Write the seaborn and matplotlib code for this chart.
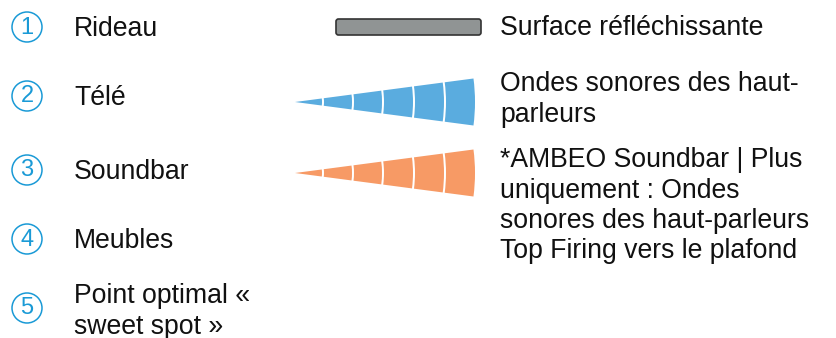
import numpy as np
import seaborn as sns
import matplotlib.pyplot as plt
from matplotlib.patches import Circle, Wedge, FancyBboxPatch

# legend content
numbers = ["1", "2", "3", "4", "5"]
left_labels = ["Rideau", "Télé", "Soundbar", "Meubles", "Point optimal «\nsweet spot »"]
left_rows = [27, 96, 170, 239, 308]

right_labels = ["Surface réfléchissante",
                "Ondes sonores des haut-\nparleurs",
                "*AMBEO Soundbar | Plus\nuniquement : Ondes\nsonores des haut-parleurs\nTop Firing vers le plafond"]
right_tops = [35, 91, 167]

# sound wave segments (inner, outer radius in px from the tip)
seg_inner = [0, 29, 59, 89, 120, 151]
seg_outer = [27, 57, 87, 118, 149, 180]
wave_rows = [102, 173]

sns.set_theme(style="white")
plt.rcParams['font.family'] = ['Liberation Sans', 'DejaVu Sans']
pal = sns.color_palette(["#1a9ad6", "#5aacdf", "#f79a65", "#909494"])
ring_c, blue_c, orange_c, gray_c = pal

fig = plt.figure(figsize=(8.36, 3.38), dpi=100)
ax = fig.add_axes([0, 0, 1, 1])
ax.set_xlim(0, 836)
ax.set_ylim(338, 0)
ax.axis("off")

fs = 19.2
lh = 30.5

for num, lab, y in zip(numbers, left_labels, left_rows):
    ax.add_patch(Circle((27, y), 15, fill=False, edgecolor=ring_c, lw=1.1))
    ax.text(27, y + 0.5, num, color=ring_c, fontsize=17, ha="center", va="center")
    lines = lab.split("\n")
    if len(lines) == 1:
        ax.text(74, y + 9, lines[0], fontsize=fs, color="#111111", va="baseline")
    else:
        for i, ln in enumerate(lines):
            ax.text(74, y - 5 + i * lh, ln, fontsize=fs, color="#111111", va="baseline")

for lab, yb in zip(right_labels, right_tops):
    for i, ln in enumerate(lab.split("\n")):
        ax.text(500, yb + i * lh, ln, fontsize=fs, color="#111111", va="baseline")

# reflective surface bar
ax.add_patch(FancyBboxPatch((336, 19), 145, 16, boxstyle="round,pad=0,rounding_size=2.5",
                            facecolor=gray_c, edgecolor="#333333", lw=1.2))

# sound waves
for yc, col in zip(wave_rows, [blue_c, orange_c]):
    for r0, r1 in zip(seg_inner, seg_outer):
        ax.add_patch(Wedge((295, yc), r1, -7.5, 7.5, width=r1 - r0,
                           facecolor=col, edgecolor="none"))

fig.savefig("out.png", dpi=100, facecolor="white")
